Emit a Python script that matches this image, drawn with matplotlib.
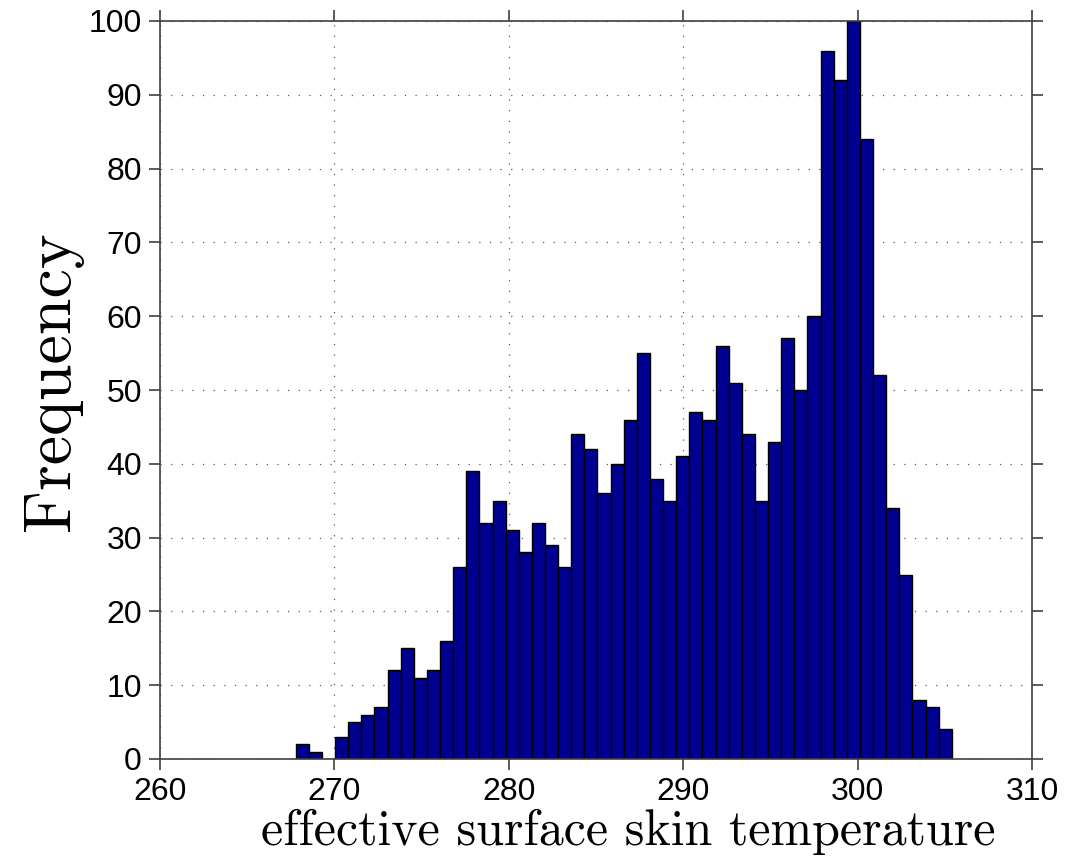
import numpy as np
import matplotlib
matplotlib.use("Agg")
import matplotlib.pyplot as plt

counts = [2, 1, 0, 3, 5, 6, 7, 12, 15, 11, 12, 16, 26, 39, 32, 35, 31, 28, 32, 29,
          26, 44, 42, 36, 40, 46, 55, 38, 35, 41, 47, 46, 56, 51, 44, 35, 43, 57, 50, 60,
          96, 92, 100, 84, 52, 34, 25, 8, 7, 4]
t_min = 267.78
t_max = 305.40
x_ticks = [260, 270, 280, 290, 300, 310]
y_ticks = [0, 10, 20, 30, 40, 50, 60, 70, 80, 90, 100]
xlabel = "effective surface skin temperature"
ylabel = "Frequency"

edges = np.linspace(t_min, t_max, len(counts) + 1)
centers = (edges[:-1] + edges[1:]) / 2
width = edges[1] - edges[0]

fig = plt.figure(figsize=(10.84, 8.61), dpi=100)
ax = fig.add_axes([160/1084, 1 - 759/861, (1032-160)/1084, (759-21)/861])
ax.bar(centers, counts, width=width, color='#000090', edgecolor='black', linewidth=1.0, zorder=2)
ax.set_xlim(260, 310)
ax.set_ylim(0, 100)
ax.set_xticks(x_ticks)
ax.set_yticks(y_ticks)
ax.grid(True, linestyle=(0, (1, 7.5)), color='0.35', linewidth=0.9, zorder=0)
ax.set_axisbelow(True)
for s in ax.spines.values():
    s.set_color('0.25')
    s.set_linewidth(1.2)
    s.set_zorder(3)
ax.tick_params(direction='out', length=8, width=1.2, color='0.25', top=True, right=True,
               labelsize=23, pad=5)
for lab in ax.get_xticklabels() + ax.get_yticklabels():
    lab.set_family(['Liberation Sans', 'DejaVu Sans'])
ax.set_xlabel(xlabel, family='cmr10', fontsize=36, labelpad=1)
ax.set_ylabel(ylabel, family='cmr10', fontsize=47.5, labelpad=4)
ax.xaxis.label.set_x(0.537)
ax.yaxis.label.set_y(0.512)
fig.savefig("out.png", dpi=100)
